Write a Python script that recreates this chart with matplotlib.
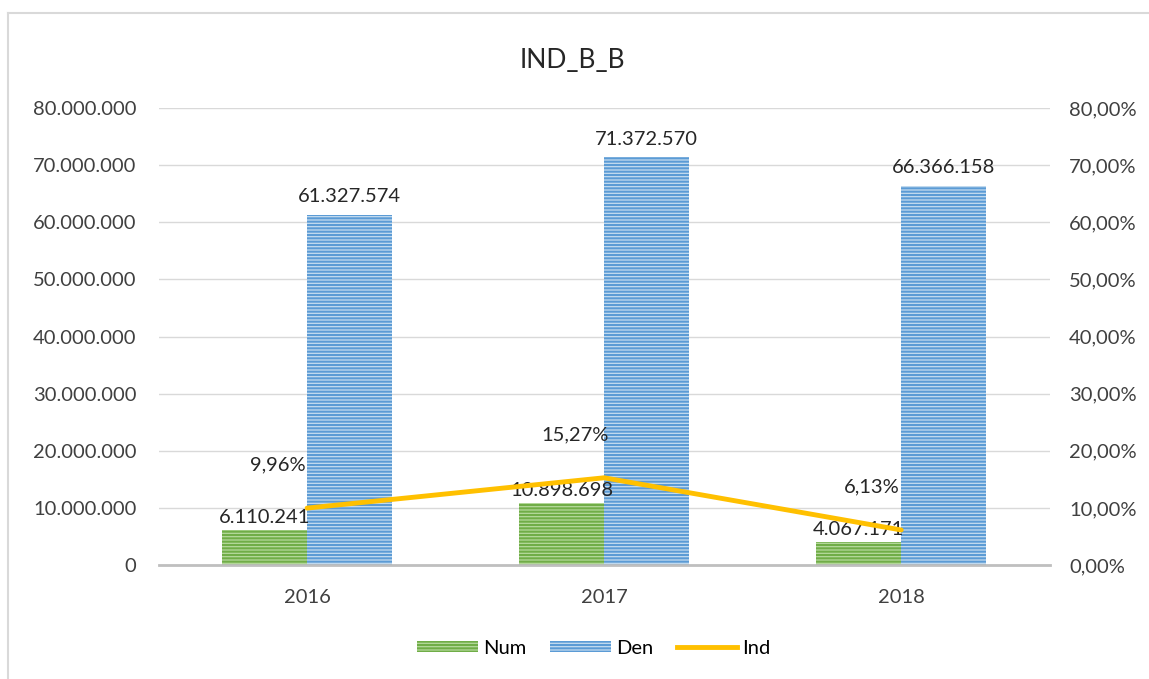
import matplotlib
matplotlib.use("Agg")
import matplotlib.pyplot as plt
from matplotlib.patches import Patch
from matplotlib.lines import Line2D
import numpy as np

categories = ["2016", "2017", "2018"]
num_values = [6110241, 10898698, 4067171]
den_values = [61327574, 71372570, 66366158]
ind_values = [9.96, 15.27, 6.13]
num_labels = ["6.110.241", "10.898.698", "4.067.171"]
den_labels = ["61.327.574", "71.372.570", "66.366.158"]
ind_labels = ["9,96%", "15,27%", "6,13%"]
left_ticks = [0, 10e6, 20e6, 30e6, 40e6, 50e6, 60e6, 70e6, 80e6]
left_tick_labels = ["0", "10.000.000", "20.000.000", "30.000.000", "40.000.000",
                    "50.000.000", "60.000.000", "70.000.000", "80.000.000"]
right_ticks = [0, 10, 20, 30, 40, 50, 60, 70, 80]
right_tick_labels = ["0,00%", "10,00%", "20,00%", "30,00%", "40,00%",
                     "50,00%", "60,00%", "70,00%", "80,00%"]

plt.rcParams['font.family'] = ['Lato', 'DejaVu Sans']
plt.rcParams['hatch.linewidth'] = 1.5

FS = 14.5
fig = plt.figure(figsize=(11.49, 6.79), dpi=100)
ax = fig.add_axes([0.138, 0.1679, 0.7756, 0.673])

# frame
fig.add_artist(Line2D([8/1149, 1.0], [1-13/679, 1-13/679], color="#d9d9d9", lw=1.5,
                      transform=fig.transFigure))
fig.add_artist(Line2D([8/1149, 8/1149], [0, 1-13/679], color="#d9d9d9", lw=1.5,
                      transform=fig.transFigure))

x = np.arange(len(categories))
w = 0.287
green_face = "#b5d99c"
green_edge = "#70ad47"
blue_face = "#c5dcf0"
blue_edge = "#5b9bd5"

ax.bar(x - w/2, num_values, w, facecolor=green_face, edgecolor=green_edge,
       hatch="-----", linewidth=0, zorder=2)
ax.bar(x + w/2, den_values, w, facecolor=blue_face, edgecolor=blue_edge,
       hatch="-----", linewidth=0, zorder=2)

for xi, v, lab in zip(x, num_values, num_labels):
    ax.annotate(lab, (xi - w/2, v), xytext=(0, 3), textcoords="offset points",
                ha="center", va="bottom", fontsize=FS, color="#262626", zorder=5)
for xi, v, lab in zip(x, den_values, den_labels):
    ax.annotate(lab, (xi + w/2, v), xytext=(0, 7), textcoords="offset points",
                ha="center", va="bottom", fontsize=FS, color="#262626", zorder=5)

ax.set_xlim(-0.5, 2.5)
ax.set_ylim(0, 80e6)
ax.set_yticks(left_ticks)
ax.set_yticklabels(left_tick_labels)
ax.set_xticks(x)
ax.set_xticklabels(categories)
ax.tick_params(axis="both", length=0, labelsize=FS, colors="#404040")
ax.tick_params(axis="x", pad=17)
ax.tick_params(axis="y", pad=16)
ax.yaxis.grid(True, color="#d9d9d9", linewidth=1)
ax.set_axisbelow(True)
for s in ["top", "right", "left"]:
    ax.spines[s].set_visible(False)
ax.spines["bottom"].set_color("#bfbfbf")
ax.spines["bottom"].set_linewidth(2)

ax2 = ax.twinx()
ax2.set_ylim(0, 80)
ax2.set_yticks(right_ticks)
ax2.set_yticklabels(right_tick_labels)
ax2.tick_params(axis="y", length=0, labelsize=FS, colors="#404040", pad=14)
for s in ax2.spines.values():
    s.set_visible(False)
ax2.plot(x, ind_values, color="#ffc000", lw=3.5, zorder=4, solid_capstyle="round")
for xi, v, lab in zip(x, ind_values, ind_labels):
    ax2.annotate(lab, (xi, v), xytext=(-21, 31), textcoords="offset points",
                 ha="center", va="center", fontsize=FS, color="#262626")

fig.text(0.4983, 1 - 60/679, "IND_B_B", ha="center", va="center", fontsize=19,
         color="#262626")

handles = [Patch(facecolor=green_face, edgecolor=green_edge, hatch="-----", linewidth=0),
           Patch(facecolor=blue_face, edgecolor=blue_edge, hatch="-----", linewidth=0),
           Line2D([0], [0], color="#ffc000", lw=3.5)]
fig.legend(handles, ["Num", "Den", "Ind"], loc="center", bbox_to_anchor=(0.517, 1 - 648/679),
           ncol=3, frameon=False, fontsize=FS, handlelength=3.0, handleheight=0.45,
           columnspacing=1.2, handletextpad=0.25)

fig.savefig("out.png", dpi=100)
